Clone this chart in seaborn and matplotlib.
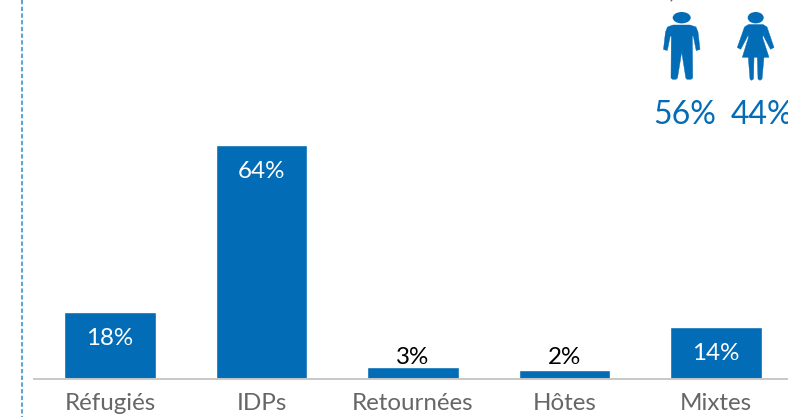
import matplotlib
matplotlib.use("Agg")
import matplotlib.pyplot as plt
from matplotlib.patches import Ellipse, Polygon
import seaborn as sns
import pandas as pd

categories = ["Réfugiés", "IDPs", "Retournées", "Hôtes", "Mixtes"]
values = [18.2, 64, 3.2, 2.3, 14]
value_labels = ["18%", "64%", "3%", "2%", "14%"]
gender_labels = ["56%", "44%"]

BLUE = "#026cb6"
W, H = 788, 417
sns.set_theme(style="white")
plt.rcParams["font.family"] = ["Lato", "DejaVu Sans"]

fig = plt.figure(figsize=(W / 100, H / 100), dpi=100, facecolor="white")
ax = fig.add_axes([34 / W, 1 - 378.5 / H, (W - 34) / W, 378.5 / H])
df = pd.DataFrame({"cat": categories, "val": values})
sns.barplot(data=df, x="cat", y="val", color=BLUE, saturation=1, width=0.605, ax=ax)
ax.set_xlim(-0.5017, 4.475)
ax.set_ylim(0, 103.6)
ax.set_xlabel("")
ax.set_ylabel("")
ax.set_yticks([])
for s in ["top", "left", "right"]:
    ax.spines[s].set_visible(False)
ax.spines["bottom"].set_color("#c8c8c8")
ax.spines["bottom"].set_linewidth(1.4)
ax.tick_params(axis="x", length=0, pad=10.5, labelsize=17.4, labelcolor="#666666")
for i, (v, lab) in enumerate(zip(values, value_labels)):
    if v >= 10:
        ax.annotate(lab, (i, v), xytext=(0, -19), textcoords="offset points",
                    ha="center", va="center", color="white", fontsize=17.4)
    else:
        ax.annotate(lab, (i, 3.2), xytext=(0, -0.5), textcoords="offset points",
                    ha="center", va="bottom", color="black", fontsize=17.4)

# overlay in pixel coordinates for the decoration
ov = fig.add_axes([0, 0, 1, 1], facecolor="none")
ov.set_xlim(0, W)
ov.set_ylim(H, 0)
ov.axis("off")
ov.plot([22.5, 22.5], [0, H], color="#5ba7d8", lw=1.5, dashes=(2.07, 1.15))
ov.plot([671, 672], [1, 0], color="#555555", lw=0.8)

man = [(673, 25), (690, 25), (696, 27), (698, 32), (700, 49.5), (696.2, 50.5), (693.3, 36),
       (692.3, 36), (692.7, 78), (691, 79.3), (687, 79.3), (685.8, 78), (681.7, 52),
       (677.5, 78), (676, 79.3), (672.5, 79.3), (671, 78), (671.3, 36), (670.3, 36),
       (667.3, 50.5), (663.5, 49.5), (665.5, 32), (667.5, 27)]
ov.add_patch(Polygon(man, closed=True, fc=BLUE, ec=BLUE, lw=0.3, joinstyle="round"))
ov.add_patch(Ellipse((681.7, 17.7), 18, 11.4, fc=BLUE, ec="none"))

woman = [(748.5, 24.5), (763, 24.5), (767, 27), (774, 47.5), (770.5, 49.3), (763, 35),
         (762.7, 38), (769, 57.3), (764, 57.3), (762, 79), (760, 80.3), (758, 79), (757.3, 57.3),
         (754, 57.3), (753.5, 79), (751.5, 80.3), (750, 79), (748.3, 57.3), (742.3, 57.3),
         (748.3, 38), (748.3, 35), (740.7, 49.3), (737.3, 47.5), (744.5, 27)]
ov.add_patch(Polygon(woman, closed=True, fc=BLUE, ec=BLUE, lw=0.3, joinstyle="round"))
ov.add_patch(Ellipse((755.7, 17.7), 16, 11.4, fc=BLUE, ec="none"))

ov.text(685, 115, gender_labels[0], color=BLUE, fontsize=23, ha="center", va="center")
ov.text(762, 115, gender_labels[1], color=BLUE, fontsize=23, ha="center", va="center")

fig.savefig("out.png", dpi=100, facecolor="white")
